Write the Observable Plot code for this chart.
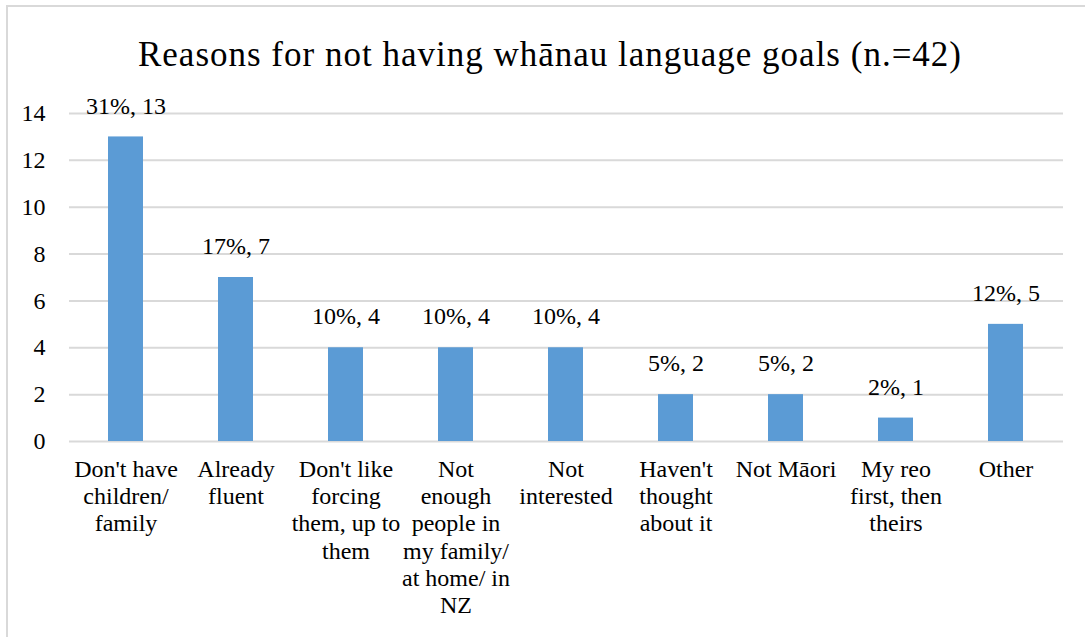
<!DOCTYPE html>
<html>
<head>
<meta charset="utf-8">
<script src="https://cdn.jsdelivr.net/npm/d3@7"></script>
<script src="https://cdn.jsdelivr.net/npm/@observablehq/plot@0.6"></script>
<style>
  html, body { margin: 0; padding: 0; background: #fff; }
  body { width: 1085px; height: 637px; position: relative; overflow: hidden; font-family: "Liberation Serif", "Times New Roman", serif; }
  #frame { position: absolute; left: 6px; top: 5px; width: 1100px; height: 660px; border-top: 2px solid #d9d9d9; border-left: 2px solid #d9d9d9; }
  #title { position: absolute; left: 0; top: 34px; width: 1100px; text-align: center; font-size: 35px; letter-spacing: 1px; color: #000; line-height: 42px; }
  #chart { position: absolute; left: 0; top: 80px; }
</style>
</head>
<body>
<div id="frame"></div>
<div id="title">Reasons for not having whānau language goals (n.=42)</div>
<div id="chart"></div>
<script>
const categories = [
  "Don't have\nchildren/\nfamily",
  "Already\nfluent",
  "Don't like\nforcing\nthem, up to\nthem",
  "Not\nenough\npeople in\nmy family/\nat home/ in\nNZ",
  "Not\ninterested",
  "Haven't\nthought\nabout it",
  "Not Māori",
  "My reo\nfirst, then\ntheirs",
  "Other"
];
const counts = [13, 7, 4, 4, 4, 2, 2, 1, 5];
const percents = ["31%", "17%", "10%", "10%", "10%", "5%", "5%", "2%", "12%"];
const yTicks = [0, 2, 4, 6, 8, 10, 12, 14];

const data = categories.map((c, i) => ({category: c, count: counts[i], label: `${percents[i]}, ${counts[i]}`}));

const font = "Liberation Serif";

const chart = Plot.plot({
  width: 1085,
  height: 557,
  marginTop: 33,
  marginLeft: 69,
  marginRight: 22,
  marginBottom: 196,
  x: {domain: categories, paddingInner: 0.68, paddingOuter: 0.34, label: null},
  y: {domain: [0, 14], label: null},
  marks: [
    Plot.gridY(yTicks, {stroke: "#d9d9d9", strokeOpacity: 1, strokeWidth: 2}),
    Plot.barY(data, {x: "category", y: "count", fill: "#5b9bd5"}),
    Plot.text(data, {x: "category", y: "count", text: "label", dy: -31, fontSize: 24, fontFamily: font, fill: "#000"}),
    Plot.axisY(yTicks, {tickSize: 0, tickPadding: 24, label: null, fontSize: 24, fontFamily: font, fill: "#000"}),
    Plot.axisX({tickSize: 0, tickPadding: 16, label: null, fontSize: 24, fontFamily: font, fill: "#000", lineHeight: 1.135, lineAnchor: "top"})
  ]
});
document.getElementById("chart").appendChild(chart);
</script>
</body>
</html>
